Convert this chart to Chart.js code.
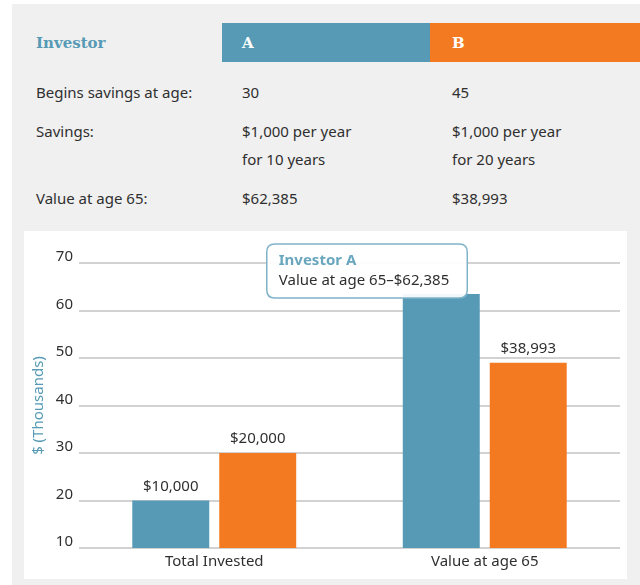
<!DOCTYPE html>
<html>
<head>
<meta charset="utf-8">
<script src="https://cdn.jsdelivr.net/npm/chart.js@4/dist/chart.umd.min.js"></script>
<style>
  html, body { margin: 0; padding: 0; background: #fff; }
  body { width: 640px; height: 585px; position: relative; overflow: hidden; font-family: "Noto Sans", Lato, sans-serif; color: #2f2f2f; }
  .panel { position: absolute; left: 12px; top: 4px; right: 0; bottom: 0; background: #f0f0f0; }
  .t { position: absolute; font-size: 15px; line-height: 20px; white-space: nowrap; }
  .head { font-family: "DejaVu Serif", serif; font-weight: bold; font-size: 15px; }
  .cell { position: absolute; top: 23px; height: 39px; }
  .box { position: absolute; left: 24px; top: 231px; width: 603px; height: 348px; background: #fff; }
</style>
</head>
<body>
<div class="panel"></div>

<div class="t head" style="left:36px; top:33px; color:#569ab5;">Investor</div>
<div class="cell" style="left:222px; width:208px; background:#569ab5;"></div>
<div class="cell" style="left:430px; width:210px; background:#f47a22;"></div>
<div class="t head" style="left:242px; top:33px; color:#fff;">A</div>
<div class="t head" style="left:452px; top:33px; color:#fff;">B</div>

<div class="t" style="left:36px; top:82px;">Begins savings at age:</div>
<div class="t" style="left:242px; top:82px;">30</div>
<div class="t" style="left:452px; top:82px;">45</div>

<div class="t" style="left:36px; top:121px;">Savings:</div>
<div class="t" style="left:242px; top:121px;">$1,000 per year</div>
<div class="t" style="left:452px; top:121px;">$1,000 per year</div>
<div class="t" style="left:242px; top:149px;">for 10 years</div>
<div class="t" style="left:452px; top:149px;">for 20 years</div>

<div class="t" style="left:36px; top:188px;">Value at age 65:</div>
<div class="t" style="left:242px; top:188px;">$62,385</div>
<div class="t" style="left:452px; top:188px;">$38,993</div>

<div class="box"><canvas id="investChart"></canvas></div>

<script>
// data (bar heights on the chart's own axis)
const categories = ['Total Invested', 'Value at age 65'];
const seriesNames = ['Investor A', 'Investor B'];
const investorA = [20, 63.5];
const investorB = [30, 49];
const labelsA = ['$10,000', '$62,385'];
const labelsB = ['$20,000', '$38,993'];
const yTicks = [10, 20, 30, 40, 50, 60, 70];

const TEAL = '#569ab5';
const ORANGE = '#f47a22';
const FONT = '"Noto Sans", Lato, sans-serif';

// bar value labels, skipping the one that gets the callout
const valueLabels = {
    id: 'valueLabels',
    afterDatasetsDraw(chart) {
        const ctx = chart.ctx;
        const all = [labelsA, labelsB];
        ctx.save();
        ctx.font = '15px ' + FONT;
        ctx.fillStyle = '#2f2f2f';
        ctx.textAlign = 'center';
        ctx.textBaseline = 'middle';
        chart.data.datasets.forEach((ds, di) => {
            chart.getDatasetMeta(di).data.forEach((bar, i) => {
                if (di === 0 && i === 1) return;
                ctx.fillText(all[di][i], bar.x, bar.y - 14);
            });
        });
        ctx.restore();
    }
};

Chart.Tooltip.positioners.callout = function(items) {
    if (!items.length) return false;
    const el = items[0].element;
    return { x: el.x + 18, y: el.y + 4 };
};

const ctx = document.getElementById('investChart').getContext('2d');
const investChart = new Chart(ctx, {
    type: 'bar',
    data: {
        labels: categories,
        datasets: [{
            label: seriesNames[0],
            data: investorA,
            backgroundColor: TEAL,
            hoverBackgroundColor: TEAL,
            categoryPercentage: 0.643,
            barPercentage: 0.885
        }, {
            label: seriesNames[1],
            data: investorB,
            backgroundColor: ORANGE,
            hoverBackgroundColor: ORANGE,
            categoryPercentage: 0.643,
            barPercentage: 0.885
        }]
    },
    options: {
        responsive: true,
        maintainAspectRatio: false,
        animation: false,
        events: [],
        layout: { padding: { left: 0, right: 7, top: 32, bottom: 3 } },
        plugins: {
            legend: { display: false },
            tooltip: {
                position: 'callout',
                xAlign: 'right',
                yAlign: 'bottom',
                caretSize: 0,
                caretPadding: 0,
                cornerRadius: 8,
                backgroundColor: 'rgba(255,255,255,0.92)',
                borderColor: '#7fb3c8',
                borderWidth: 1.5,
                padding: { top: 8, bottom: 8, left: 12, right: 18 },
                displayColors: false,
                titleColor: '#6aa7bf',
                titleFont: { family: FONT, size: 15, weight: 'bold' },
                titleMarginBottom: 2,
                bodyColor: '#2f2f2f',
                bodyFont: { family: FONT, size: 15 },
                callbacks: {
                    title: items => seriesNames[items[0].datasetIndex],
                    label: item => categories[item.dataIndex] + '\u2013' + labelsA[item.dataIndex]
                }
            }
        },
        scales: {
            x: {
                grid: { display: false, drawTicks: false },
                border: { display: false },
                ticks: { color: '#2f2f2f', padding: 5, font: { family: FONT, size: 15 } }
            },
            y: {
                min: 10,
                max: 70,
                afterBuildTicks: scale => { scale.ticks = yTicks.map(v => ({ value: v })); },
                afterFit: scale => { scale.width = 55; },
                grid: { color: '#d2d2d2', lineWidth: 2, drawTicks: false },
                border: { display: false },
                ticks: {
                    color: '#2f2f2f',
                    padding: 6,
                    font: { family: FONT, size: 15, lineHeight: 12 / 15 },
                    // second empty line lifts the number above its grid line
                    callback: v => [String(v), '']
                },
                title: {
                    display: true,
                    text: '$ (Thousands)',
                    color: TEAL,
                    font: { family: FONT, size: 15 },
                    padding: { top: 6, bottom: 0 }
                }
            }
        }
    },
    plugins: [valueLabels]
});

investChart.tooltip.setActiveElements([{ datasetIndex: 0, index: 1 }], { x: 0, y: 0 });
investChart.update();
</script>
</body>
</html>
